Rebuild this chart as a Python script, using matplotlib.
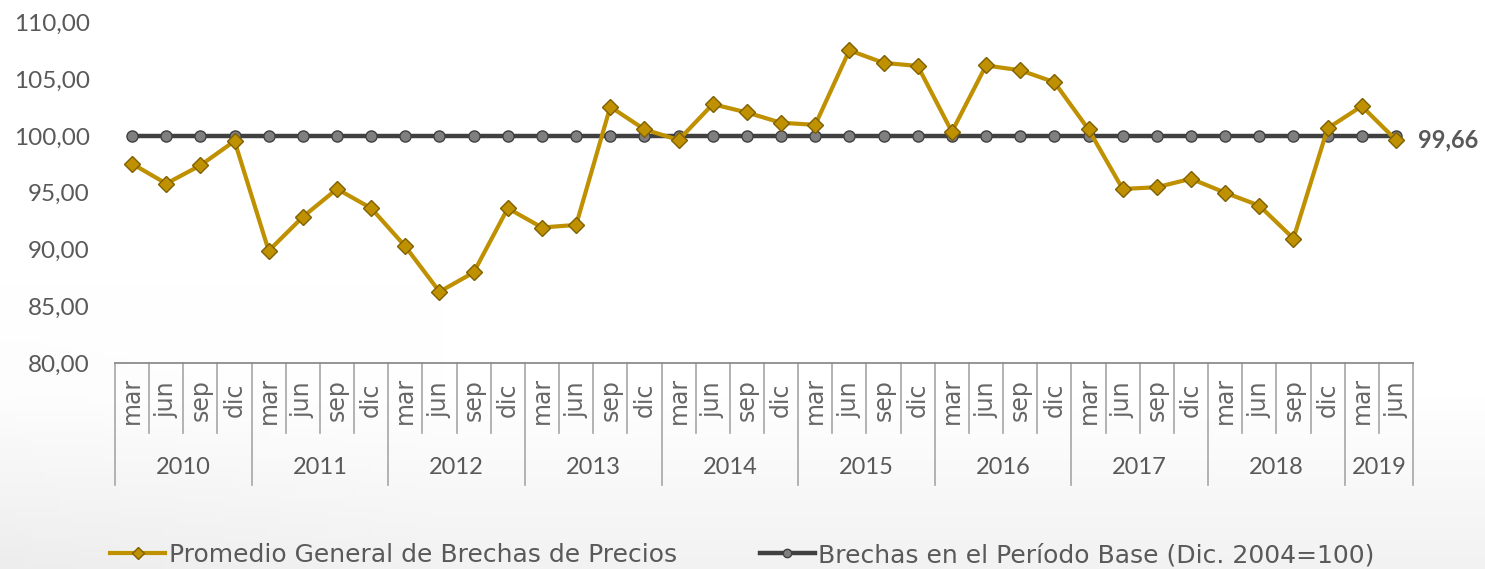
import matplotlib
matplotlib.use("Agg")
import matplotlib.pyplot as plt
import matplotlib.transforms as mtransforms
import numpy as np

plt.rcParams['font.family'] = ['Lato', 'DejaVu Sans']

years = ["2010", "2011", "2012", "2013", "2014", "2015", "2016", "2017", "2018", "2019"]
quarters_per_year = [4, 4, 4, 4, 4, 4, 4, 4, 4, 2]
months = ["mar", "jun", "sep", "dic"]

promedio = [97.56, 95.81, 97.42, 99.56,
            89.89, 92.88, 95.34, 93.64,
            90.27, 86.28, 87.98, 93.64,
            91.94, 92.17, 102.58, 100.59,
            99.65, 102.81, 102.08, 101.17,
            100.99, 107.56, 106.45, 106.18,
            100.38, 106.22, 105.80, 104.75,
            100.59, 95.34, 95.49, 96.24,
            95.01, 93.87, 90.97, 100.68,
            102.64, 99.66]
base = [100.0] * len(promedio)

label_last = "99,66"
serie1 = "Promedio General de Brechas de Precios"
serie2 = "Brechas en el Período Base (Dic. 2004=100)"

W, H = 1485, 569
fig = plt.figure(figsize=(W / 100, H / 100), dpi=100)
fig.patch.set_facecolor("white")

# subtle background shading
bg = fig.add_axes([0, 0, 1, 1], zorder=-10)
yy = np.linspace(0, 1, 100)[:, None]
xx = np.linspace(0, 1, 100)[None, :]
shade = 1 - 0.05 * np.clip((yy - 0.7) / 0.3, 0, 1) - 0.02 * np.clip((0.3 - xx) / 0.3, 0, 1) * np.clip((yy - 0.5) / 0.5, 0, 1)
grad = np.repeat(shade[:, :, None], 3, axis=2)
bg.imshow(grad, aspect="auto", extent=[0, 1, 0, 1], origin="upper", vmin=0, vmax=1)
bg.axis("off")

left, right = 115 / W, 1413 / W
bottom = (H - 363) / H
top = (H - 22.6) / H
ax = fig.add_axes([left, bottom, right - left, top - bottom])
ax.patch.set_alpha(0)

n = len(promedio)
x = np.arange(n)
gold = "#BF9000"
dark = "#404040"
txt = "#595959"

ax.plot(x, base, color=dark, lw=3.2, marker="o", ms=8, mfc="#7F7F7F",
        mec="#404040", mew=1.0, label=serie2, zorder=3)
ax.plot(x, promedio, color=gold, lw=3.0, marker="D", ms=8, mfc=gold,
        mec="#7F6000", mew=1.0, label=serie1, zorder=4)

ax.set_xlim(-0.5, n - 0.5)
ax.set_ylim(80, 110)
ax.set_yticks(np.arange(80, 111, 5))
ax.set_yticklabels([f"{v:.2f}".replace(".", ",") for v in np.arange(80, 111, 5)])
ax.tick_params(axis="y", length=0, pad=18, labelsize=17.5, labelcolor=txt)
ax.set_xticks([])
for s in ["left", "right", "top"]:
    ax.spines[s].set_visible(False)
ax.spines["bottom"].set_color("#8C8C8C")
ax.spines["bottom"].set_linewidth(1.3)

ax.text(n - 1 + 0.65, promedio[-1], label_last, fontsize=17, fontweight="bold",
        color=txt, va="center", ha="left")

trans = mtransforms.blended_transform_factory(ax.transData, ax.transAxes)
ah = 363 - 22.6
def fy(p):
    return (363 - p) / ah

sep_color = "#A6A6A6"
idx = 0
for yr, q in zip(years, quarters_per_year):
    ax.plot([idx - 0.5, idx - 0.5], [0, fy(485)], transform=trans, color=sep_color,
            lw=1.2, clip_on=False)
    for k in range(q):
        if k > 0:
            ax.plot([idx + k - 0.5, idx + k - 0.5], [0, fy(433)], transform=trans,
                    color=sep_color, lw=1.2, clip_on=False)
        ax.text(idx + k, fy(400), months[k], transform=trans, rotation=90,
                ha="center", va="center", fontsize=17, color="#666666",
                family=["DejaVu Sans"])
    ax.text(idx + (q - 1) / 2, fy(467), yr, transform=trans, ha="center",
            va="center", fontsize=17, color=txt)
    idx += q
ax.plot([n - 0.5, n - 0.5], [0, fy(485)], transform=trans, color=sep_color,
        lw=1.2, clip_on=False)

handles, labels = ax.get_legend_handles_labels()
leg = fig.legend(handles[::-1], labels[::-1], loc="center", ncol=2,
                 bbox_to_anchor=(0.5, (H - 555) / H), frameon=False,
                 prop={"family": ["DejaVu Sans"], "size": 18},
                 handlelength=2.2, columnspacing=3.3,
                 handletextpad=0.15, labelcolor=txt)
for h in leg.legend_handles:
    h.set_markersize(6)

fig.savefig("out.png", dpi=100)
